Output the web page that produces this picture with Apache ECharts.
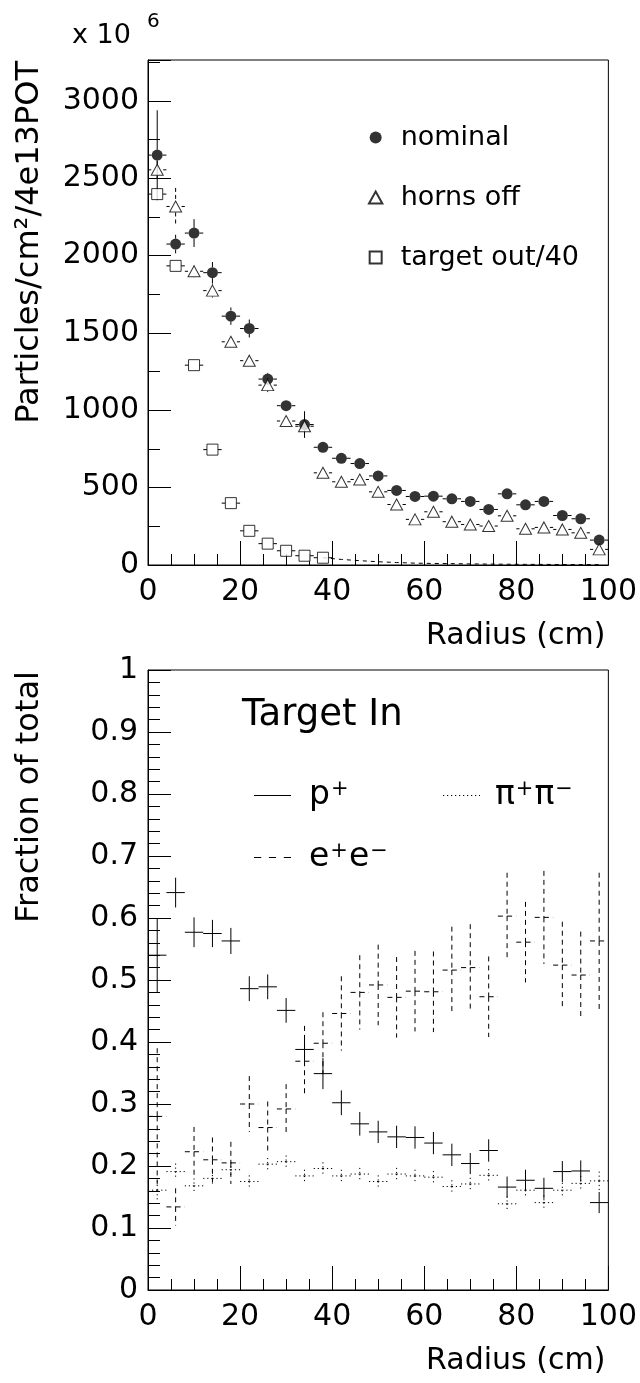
<!DOCTYPE html>
<html>
<head>
<meta charset="utf-8">
<script src="https://cdn.jsdelivr.net/npm/echarts@6/dist/echarts.min.js"></script>
<style>
  html, body { margin: 0; padding: 0; background: #fff; }
  #chart { width: 640px; height: 1383px; }
</style>
</head>
<body>
<div id="chart"></div>
<script>
// Bin centres (cm), 4 cm wide bins
const radius = [2, 6, 10, 14, 18, 22, 26, 30, 34, 38, 42, 46, 50, 54, 58, 62, 66, 70, 74, 78, 82, 86, 90, 94, 98];

// Upper panel: particles / cm^2 / 4e13 POT (units of 10^6)
const nominal    = [2650, 2075, 2146, 1890, 1609, 1529, 1202, 1030, 908, 761, 690, 656, 576, 482, 443, 445, 428, 411, 359, 460, 389, 411, 320, 299, 161];
const nominalErr = [290, 60, 90, 69, 56, 58, 40, 30, 86, 25, 22, 22, 20, 20, 18, 18, 18, 18, 18, 18, 16, 16, 15, 15, 14];
const hornsOff    = [2555, 2318, 1899, 1774, 1443, 1321, 1163, 931, 897, 596, 538, 553, 473, 391, 295, 344, 280, 262, 252, 318, 234, 243, 230, 208, 101];
const hornsOffErr = [60, 120, 40, 45, 30, 30, 45, 30, 50, 22, 20, 20, 20, 18, 16, 16, 16, 15, 15, 16, 14, 14, 14, 13, 10];
// target out (scaled by 1/40): points with markers for the first ten bins
const targetOut    = [2398, 1934, 1292, 746, 400, 221, 138, 92, 60, 47];
const targetOutErr = [40, 30, 25, 20, 15, 10, 8, 6, 6, 5];
// remaining target-out bins (42 .. 98 cm), drawn as a dashed trace
const targetOutTail = [36, 28, 21, 16, 12, 10, 9, 7, 6, 5, 4, 4, 3, 3, 2];

// Lower panel: fraction of total, Target In
const protonFrac = [0.540, 0.641, 0.577, 0.575, 0.563, 0.486, 0.489, 0.451, 0.388, 0.349, 0.302, 0.268, 0.255, 0.247, 0.246, 0.237, 0.218, 0.204, 0.225, 0.166, 0.177, 0.164, 0.191, 0.192, 0.141];
const protonErr  = [0.060, 0.024, 0.024, 0.022, 0.021, 0.020, 0.020, 0.020, 0.020, 0.025, 0.020, 0.019, 0.018, 0.018, 0.018, 0.018, 0.018, 0.017, 0.018, 0.017, 0.017, 0.017, 0.017, 0.017, 0.017];
const electronFrac = [0.280, 0.134, 0.223, 0.210, 0.205, 0.300, 0.262, 0.292, 0.369, 0.398, 0.446, 0.480, 0.492, 0.472, 0.482, 0.481, 0.516, 0.520, 0.473, 0.603, 0.561, 0.601, 0.524, 0.508, 0.563];
const electronErr  = [0.110, 0.030, 0.040, 0.036, 0.034, 0.045, 0.042, 0.040, 0.057, 0.050, 0.060, 0.060, 0.065, 0.065, 0.065, 0.065, 0.070, 0.070, 0.065, 0.070, 0.065, 0.075, 0.070, 0.070, 0.110];
const pionFrac = [0.161, 0.191, 0.168, 0.180, 0.194, 0.175, 0.203, 0.207, 0.184, 0.196, 0.184, 0.187, 0.175, 0.187, 0.184, 0.182, 0.167, 0.171, 0.185, 0.139, 0.161, 0.141, 0.161, 0.172, 0.176];
const pionErr  = [0.015, 0.013, 0.012, 0.012, 0.012, 0.010, 0.010, 0.010, 0.010, 0.010, 0.010, 0.010, 0.010, 0.010, 0.010, 0.010, 0.010, 0.010, 0.010, 0.012, 0.012, 0.012, 0.012, 0.012, 0.015];

const xTicks = { min: 0, max: 100, interval: 20 };
const halfBin = (radius[1] - radius[0]) / 2;
const FONT = 'DejaVu Sans';
const INK = '#000';

// Error-bar renderer: horizontal bar spans the bin, vertical bar spans +-err,
// both interrupted by a gap of `gap` pixels around the marker.
function errorBars(name, xs, ys, errs, gap, dash, gridIdx, yAxisIdx) {
  return {
    type: 'custom',
    name: name,
    xAxisIndex: gridIdx,
    yAxisIndex: yAxisIdx,
    silent: true,
    z: 3,
    data: xs.map((x, i) => [x, ys[i], errs[i]]),
    renderItem(params, api) {
      const x = api.value(0), y = api.value(1), e = api.value(2);
      const c = api.coord([x, y]);
      const l = api.coord([x - halfBin, y]);
      const r = api.coord([x + halfBin, y]);
      const t = api.coord([x, y + e]);
      const b = api.coord([x, y - e]);
      const style = { stroke: INK, lineWidth: 1, lineDash: dash, fill: null };
      const segs = [];
      const seg = (x1, y1, x2, y2) => segs.push({ type: 'line', shape: { x1, y1, x2, y2 }, style });
      if (c[0] - l[0] > gap) { seg(l[0], c[1], c[0] - gap, c[1]); seg(c[0] + gap, c[1], r[0], c[1]); }
      if (c[1] - t[1] > gap) { seg(c[0], t[1], c[0], c[1] - gap); seg(c[0], c[1] + gap, c[0], b[1]); }
      return { type: 'group', children: segs };
    }
  };
}

const TRI = 'path://M5,0L10,9L0,9Z';
const SQR = 'path://M0,0H10V10H0Z';
// legend key made of short filled runs (dashes / dots) along one line
function strokePattern(dashLen, gapLen, total) {
  let p = '';
  for (let s = 0; s < total; s += dashLen + gapLen) {
    const w = Math.min(dashLen, total - s);
    p += `M${s},0h${w}v1h${-w}z`;
  }
  return 'path://' + p;
}
// p⁺ / e⁺e⁻ / π⁺π⁻ with raised charge signs
const chargeRich = {
  b: { fontFamily: FONT, fontSize: 33, color: INK },
  s: { fontFamily: FONT, fontSize: 21, color: INK, verticalAlign: 'top', padding: [0, 1, 0, 1] }
};
const chargeFormatter = name => name.replace(/([^⁺⁻]+)|([⁺⁻])/g, (m, base, sign) =>
  base ? `{b|${base}}` : `{s|${sign === '⁺' ? '+' : '−'}}`);

const axisText = { fontFamily: FONT, fontSize: 30, color: INK };

const xAxisCommon = (gridIndex) => ({
  type: 'value', gridIndex, min: xTicks.min, max: xTicks.max, interval: xTicks.interval,
  axisLine: { show: true, lineStyle: { color: INK, width: 1 } },
  axisTick: { show: true, inside: true, length: 24, lineStyle: { color: INK, width: 1 } },
  minorTick: { show: true, splitNumber: 4, length: 11, lineStyle: { color: INK, width: 1 } },
  splitLine: { show: false },
  axisLabel: { ...axisText, margin: 12 },
  name: 'Radius (cm)', nameLocation: 'end', nameGap: -3,
  nameTextStyle: { fontFamily: FONT, fontSize: 30, color: INK, align: 'right', verticalAlign: 'top', padding: [56, 0, 0, 0] }
});

const topMax = 3265;

const option = {
  backgroundColor: '#fff',
  animation: false,
  grid: [
    { left: 148, top: 60, width: 467, height: 505, show: true, borderColor: INK, borderWidth: 1, backgroundColor: 'transparent' },
    { left: 148, top: 670, width: 467, height: 620, show: true, borderColor: INK, borderWidth: 1, backgroundColor: 'transparent' }
  ],
  xAxis: [xAxisCommon(0), xAxisCommon(1)],
  yAxis: [
    { // upper panel, labelled major ticks every 500
      type: 'value', gridIndex: 0, position: 'left', min: 0, max: topMax, interval: 500,
      axisLine: { show: true, lineStyle: { color: INK, width: 1 } },
      axisTick: { show: true, inside: true, length: 23, lineStyle: { color: INK, width: 1 } },
      splitLine: { show: false },
      axisLabel: { ...axisText, margin: 9, formatter: v => (v % 500 === 0 ? String(v) : '') }
    },
    { // upper panel, minor ticks every 250
      type: 'value', gridIndex: 0, position: 'left', offset: 0, min: 0, max: topMax, interval: 250,
      axisLine: { show: false },
      axisTick: { show: true, inside: true, length: 12, lineStyle: { color: INK, width: 1 } },
      splitLine: { show: false },
      axisLabel: { show: false }
    },
    { // lower panel
      type: 'value', gridIndex: 1, position: 'left', min: 0, max: 1, interval: 0.1,
      axisLine: { show: true, lineStyle: { color: INK, width: 1 } },
      axisTick: { show: true, inside: true, length: 23, lineStyle: { color: INK, width: 1 } },
      minorTick: { show: true, splitNumber: 5, length: 12, lineStyle: { color: INK, width: 1 } },
      splitLine: { show: false },
      axisLabel: { ...axisText, margin: 10 }
    }
  ],
  legend: [
    {
      orient: 'vertical', left: 363, top: 119, itemWidth: 40, itemHeight: 12, itemGap: 33,
      selectedMode: false,
      textStyle: { fontFamily: FONT, fontSize: 27, color: INK },
      data: [
        { name: 'nominal', icon: 'circle' },
        { name: 'horns off', icon: TRI },
        { name: 'target out/40', icon: SQR }
      ]
    },
    {
      left: 249, top: 774, itemWidth: 37, itemHeight: 1.2, symbolKeepAspect: false, selectedMode: false,
      formatter: chargeFormatter,
      textStyle: { fontFamily: FONT, fontSize: 33, color: INK, padding: [0, 0, 0, 13], rich: chargeRich },
      data: [{ name: 'p⁺', icon: 'path://M0,0H37V1H0Z', itemStyle: { color: INK, borderWidth: 0 } }]
    },
    {
      left: 438, top: 774, itemWidth: 37, itemHeight: 1.2, symbolKeepAspect: false, selectedMode: false,
      formatter: chargeFormatter,
      textStyle: { fontFamily: FONT, fontSize: 33, color: INK, padding: [0, 0, 0, 10], rich: chargeRich },
      data: [{ name: 'π⁺π⁻', icon: strokePattern(1.2, 2.8, 37), itemStyle: { color: INK, borderWidth: 0 } }]
    },
    {
      left: 249, top: 836, itemWidth: 37, itemHeight: 1.2, symbolKeepAspect: false, selectedMode: false,
      formatter: chargeFormatter,
      textStyle: { fontFamily: FONT, fontSize: 33, color: INK, padding: [0, 0, 0, 13], rich: chargeRich },
      data: [{ name: 'e⁺e⁻', icon: strokePattern(7, 7.5, 37), itemStyle: { color: INK, borderWidth: 0 } }]
    }
  ],
  graphic: [
    { type: 'text', left: 72, top: 22, style: { text: 'x 10', font: `27px "${FONT}"`, fill: INK } },
    { type: 'text', left: 147, top: 12, style: { text: '6', font: `20px "${FONT}"`, fill: INK } },
    { type: 'text', x: 30, y: 61, rotation: Math.PI / 2,
      style: { text: 'Particles/cm²/4e13POT', font: `32px "${FONT}"`, fill: INK, align: 'right', verticalAlign: 'middle', textAlign: 'right', textVerticalAlign: 'middle' } },
    { type: 'text', x: 30, y: 671, rotation: Math.PI / 2,
      style: { text: 'Fraction of total', font: `32px "${FONT}"`, fill: INK, align: 'right', verticalAlign: 'middle', textAlign: 'right', textVerticalAlign: 'middle' } },
    { type: 'text', left: 242, top: 697, style: { text: 'Target In', font: `37px "${FONT}"`, fill: INK } }
  ],
  series: [
    // upper panel markers
    { type: 'scatter', name: 'nominal', xAxisIndex: 0, yAxisIndex: 0, symbol: 'circle', symbolSize: 11, z: 5,
      itemStyle: { color: INK }, data: radius.map((r, i) => [r, nominal[i]]) },
    { type: 'scatter', name: 'horns off', xAxisIndex: 0, yAxisIndex: 0, symbol: TRI, symbolSize: [12, 11], z: 5,
      itemStyle: { color: '#fff', borderColor: INK, borderWidth: 1 }, data: radius.map((r, i) => [r, hornsOff[i]]) },
    { type: 'scatter', name: 'target out/40', xAxisIndex: 0, yAxisIndex: 0, symbol: SQR, symbolSize: 11, z: 5,
      itemStyle: { color: '#fff', borderColor: INK, borderWidth: 1 }, data: targetOut.map((v, i) => [radius[i], v]) },
    errorBars('nominal', radius, nominal, nominalErr, 5.5, null, 0, 0),
    errorBars('horns off', radius, hornsOff, hornsOffErr, 6, [4, 3], 0, 0),
    errorBars('target out/40', radius.slice(0, targetOut.length), targetOut, targetOutErr, 5.5, null, 0, 0),
    { type: 'line', name: 'target out/40 (tail)', xAxisIndex: 0, yAxisIndex: 0, symbol: 'none', z: 2,
      lineStyle: { color: INK, width: 1, type: [4, 4] },
      data: [[radius[targetOut.length - 1], targetOut[targetOut.length - 1]]]
        .concat(targetOutTail.map((v, i) => [radius[targetOut.length + i], v])) },
    // lower panel crosses
    errorBars('p⁺', radius, protonFrac, protonErr, 0, null, 1, 2),
    errorBars('e⁺e⁻', radius, electronFrac, electronErr, 0, [5, 4], 1, 2),
    errorBars('π⁺π⁻', radius, pionFrac, pionErr, 0, [1.2, 2.8], 1, 2)
  ]
};

const chart = echarts.init(document.getElementById('chart'), null, { renderer: 'canvas' });
chart.setOption(option);
</script>
</body>
</html>
